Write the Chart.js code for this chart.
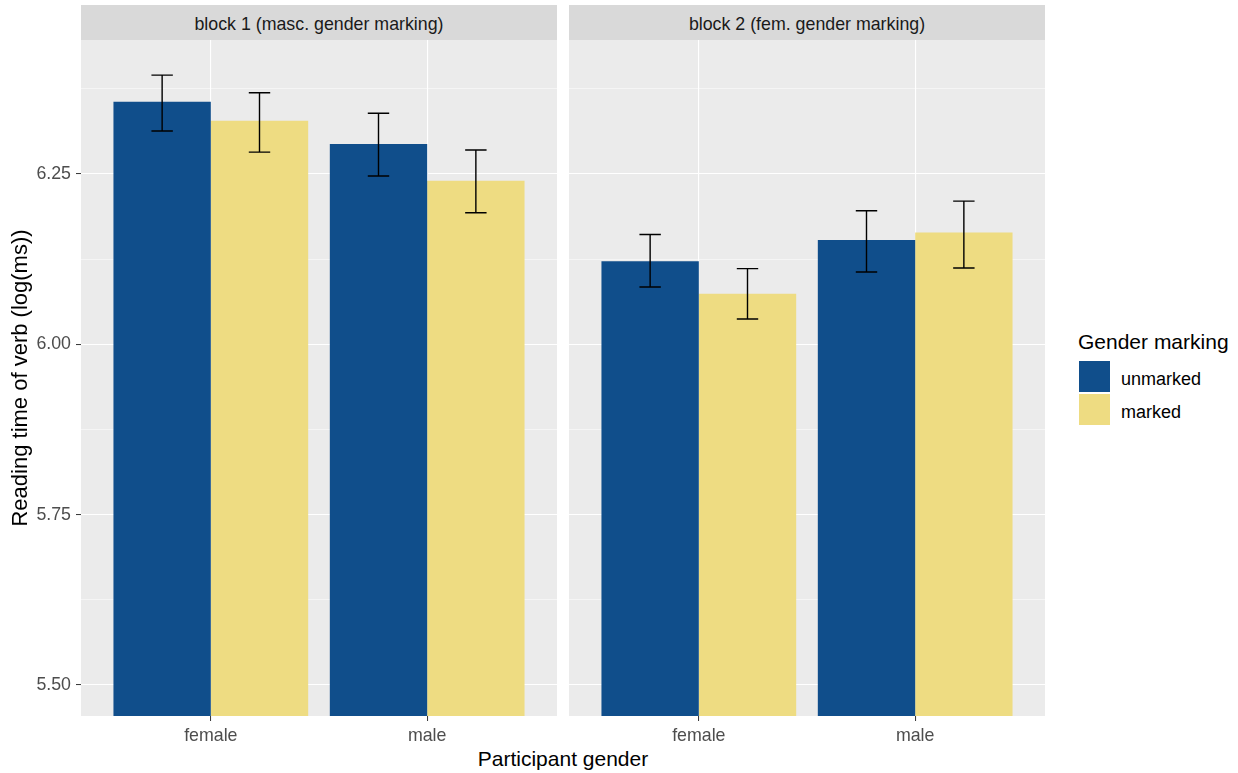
<!DOCTYPE html>
<html>
<head>
<meta charset="utf-8">
<script src="https://cdn.jsdelivr.net/npm/chart.js@4"></script>
<style>
  body { margin: 0; background: #fff; font-family: "Liberation Sans", Arial, sans-serif; }
  #wrap { position: relative; width: 1238px; height: 773px; overflow: hidden; }
  .strip { position: absolute; top: 5px; height: 35px; width: 476px; background: #D9D9D9; box-sizing: border-box;
           padding-top: 3px; color: #1A1A1A; font-size: 17.8px; line-height: 32px; text-align: center; white-space: nowrap; }
  .panel { position: absolute; top: 40px; height: 706px; }
  #xTitle { position: absolute; left: 81px; width: 964px; top: 748px; text-align: center;
            font-size: 21px; line-height: 21px; color: #000; }
  #legend .title { position: absolute; left: 1078px; top: 331px; font-size: 21px; line-height: 21px; color: #000; white-space: nowrap; }
  #legend .key { position: absolute; left: 1079px; width: 31px; height: 31px; }
  #legend .label { position: absolute; left: 1121px; font-size: 18px; line-height: 18px; color: #000; }
</style>
</head>
<body>
<div id="wrap">
  <div class="strip" id="strip1" style="left:81px"></div>
  <div class="strip" id="strip2" style="left:569px"></div>
  <div class="panel" style="left:0px; width:557px"><canvas id="chart1"></canvas></div>
  <div class="panel" style="left:569px; width:476px"><canvas id="chart2"></canvas></div>
  <div id="xTitle">Participant gender</div>
  <div id="legend"></div>
</div>
<script>
// data
const genders = ["female", "male"];
const blocks = ["block 1 (masc. gender marking)", "block 2 (fem. gender marking)"];
const markingLevels = ["unmarked", "marked"];
const markingColors = ["#104E8B", "#EEDC82"];

const block1Unmarked = [6.356, 6.294];
const block1Marked = [6.328, 6.240];
const block1UnmarkedCI = [[6.313, 6.395], [6.247, 6.339]];
const block1MarkedCI = [[6.282, 6.369], [6.193, 6.285]];

const block2Unmarked = [6.122, 6.153];
const block2Marked = [6.074, 6.164];
const block2UnmarkedCI = [[6.084, 6.161], [6.106, 6.196]];
const block2MarkedCI = [[6.037, 6.111], [6.112, 6.210]];

const yTicks = [5.50, 5.75, 6.00, 6.25];
const yMin = 5.4545, yMax = 6.4465;

document.getElementById("strip1").textContent = blocks[0];
document.getElementById("strip2").textContent = blocks[1];

// legend
const legend = document.getElementById("legend");
legend.innerHTML = '<div class="title">Gender marking</div>' +
  markingLevels.map((m, i) =>
    `<div class="key" style="top:${361 + i * 33}px;background:${markingColors[i]}"></div>` +
    `<div class="label" style="top:${370 + i * 32.5}px">${m}</div>`
  ).join("");

// panel background + error bars
const panelPlugin = {
  id: "panel",
  beforeDraw(chart) {
    const a = chart.chartArea, ctx = chart.ctx;
    ctx.save();
    ctx.fillStyle = "#EBEBEB";
    ctx.fillRect(a.left, a.top, a.right - a.left, a.bottom - a.top);
    ctx.restore();
  },
  afterDatasetsDraw(chart) {
    const ctx = chart.ctx, y = chart.scales.y;
    ctx.save();
    ctx.strokeStyle = "#000";
    ctx.lineWidth = 1.4;
    chart.data.datasets.forEach((ds, di) => {
      chart.getDatasetMeta(di).data.forEach((bar, i) => {
        const ci = ds.ci[i];
        const lo = y.getPixelForValue(ci[0]), hi = y.getPixelForValue(ci[1]);
        const half = bar.width * 0.11;
        ctx.beginPath();
        ctx.moveTo(bar.x, lo); ctx.lineTo(bar.x, hi);
        ctx.moveTo(bar.x - half, lo); ctx.lineTo(bar.x + half, lo);
        ctx.moveTo(bar.x - half, hi); ctx.lineTo(bar.x + half, hi);
        ctx.stroke();
      });
    });
    ctx.restore();
  }
};

function isMajor(v) {
  return yTicks.some(t => Math.abs(t - v) < 1e-6);
}

function noPad(scale) {
  scale.paddingTop = 0; scale.paddingBottom = 0;
  scale.paddingLeft = 0; scale.paddingRight = 0;
}

function makeChart(id, values, cis, showY) {
  const ctx = document.getElementById(id).getContext("2d");
  return new Chart(ctx, {
    type: "bar",
    data: {
      datasets: markingLevels.map((m, k) => ({
        label: m,
        data: genders.map((g, i) => ({ x: i + 1, y: values[k][i] })),
        ci: cis[k],
        backgroundColor: markingColors[k],
        borderWidth: 0,
        barPercentage: 1,
        categoryPercentage: 0.9
      }))
    },
    options: {
      responsive: true,
      maintainAspectRatio: false,
      animation: false,
      layout: { padding: 0 },
      plugins: { legend: { display: false }, tooltip: { enabled: false } },
      scales: {
        x: {
          type: "linear",
          min: 0.4,
          max: 2.6,
          offset: false,
          afterBuildTicks(scale) { scale.ticks = genders.map((g, i) => ({ value: i + 1 })); },
          afterFit(scale) { scale.height = 30; noPad(scale); },
          ticks: {
            color: "#4D4D4D",
            font: { family: "Liberation Sans", size: 17.8 },
            padding: 4,
            maxRotation: 0,
            callback: v => genders[Math.round(v) - 1]
          },
          grid: { color: "#FFFFFF", lineWidth: 1.1, offset: false, tickLength: 5, tickColor: "#333333", tickWidth: 1 },
          border: { display: false }
        },
        y: {
          min: yMin,
          max: yMax,
          afterBuildTicks(scale) {
            const t = [];
            for (let i = 0; i < yTicks.length; i++) {
              t.push({ value: yTicks[i] });
              t.push({ value: yTicks[i] + 0.125 });
            }
            scale.ticks = t;
          },
          afterFit(scale) { scale.width = showY ? 81 : 0; noPad(scale); },
          ticks: {
            display: showY,
            color: "#4D4D4D",
            font: { family: "Liberation Sans", size: 17.8 },
            padding: 5,
            callback: v => isMajor(v) ? v.toFixed(2) : ""
          },
          title: {
            display: showY,
            text: "Reading time of verb (log(ms))",
            color: "#000",
            font: { family: "Liberation Sans", size: 22 },
            padding: { top: 8, bottom: 0 }
          },
          grid: {
            color: "#FFFFFF",
            lineWidth: c => isMajor(c.tick.value) ? 1.1 : 0.5,
            tickLength: 5,
            tickWidth: 1,
            tickColor: c => (showY && isMajor(c.tick.value)) ? "#333333" : "rgba(0,0,0,0)"
          },
          border: { display: false }
        }
      }
    },
    plugins: [panelPlugin]
  });
}

makeChart("chart1", [block1Unmarked, block1Marked], [block1UnmarkedCI, block1MarkedCI], true);
makeChart("chart2", [block2Unmarked, block2Marked], [block2UnmarkedCI, block2MarkedCI], false);
</script>
</body>
</html>
